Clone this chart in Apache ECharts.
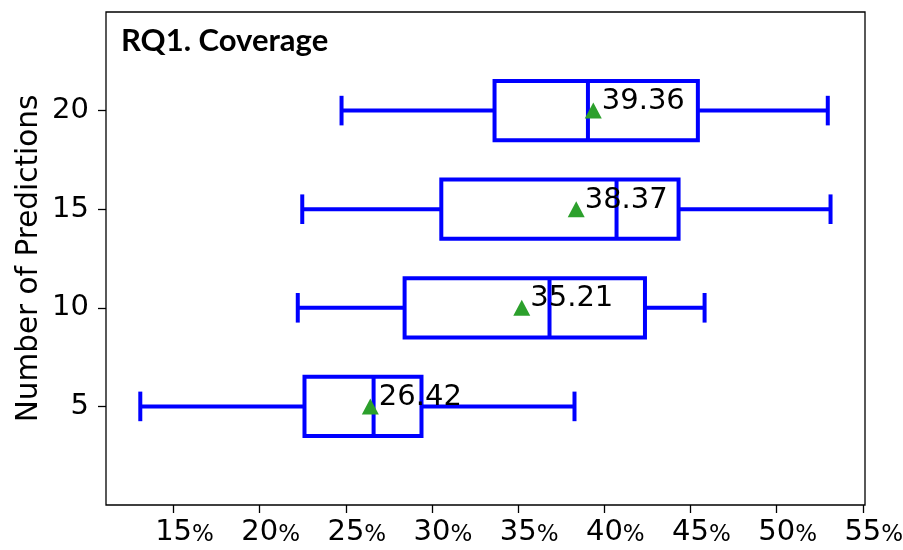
<!DOCTYPE html>
<html>
<head>
<meta charset="utf-8">
<script src="https://cdn.jsdelivr.net/npm/echarts@6/dist/echarts.min.js"></script>
<style>html,body{margin:0;padding:0;background:#fff}#c{width:903px;height:550px}</style>
</head>
<body>
<div id="c"></div>
<script>
// ---- data ----
const categories = [5, 10, 15, 20];
const lowWhisker = [13.07, 22.21, 22.47, 24.75];
const q1 = [22.60, 28.41, 30.54, 33.63];
const median = [26.61, 36.82, 40.71, 39.05];
const q3 = [29.39, 42.36, 44.31, 45.43];
const highWhisker = [38.27, 45.82, 53.13, 52.97];
const means = [26.42, 35.21, 38.37, 39.36];
const xTicks = [15, 20, 25, 30, 35, 40, 45, 50, 55];
const yTicks = [5, 10, 15, 20];
const titleText = 'RQ1. Coverage';
const yName = 'Number of Predictions';

const boxData = categories.map((c, i) => [c, lowWhisker[i], q1[i], median[i], q3[i], highWhisker[i]]);
const meanData = categories.map((c, i) => [means[i], c]);

const BLUE = '#0000ff';
const LW = 4;
const DV = "'DejaVu Sans'";

function renderBox(params, api) {
  const cat = api.value(0);
  const lo = api.coord([api.value(1), cat]);
  const a = api.coord([api.value(2), cat]);
  const m = api.coord([api.value(3), cat]);
  const b = api.coord([api.value(4), cat]);
  const hi = api.coord([api.value(5), cat]);
  const h = api.size([0, 3])[1];
  const capH = api.size([0, 1.5])[1];
  const y = lo[1];
  const st = { stroke: BLUE, lineWidth: LW, fill: null, lineCap: 'butt' };
  return {
    type: 'group',
    children: [
      { type: 'line', shape: { x1: lo[0], y1: y, x2: a[0], y2: y }, style: st },
      { type: 'line', shape: { x1: b[0], y1: y, x2: hi[0], y2: y }, style: st },
      { type: 'line', shape: { x1: lo[0], y1: y - capH / 2, x2: lo[0], y2: y + capH / 2 }, style: st },
      { type: 'line', shape: { x1: hi[0], y1: y - capH / 2, x2: hi[0], y2: y + capH / 2 }, style: st },
      { type: 'rect', shape: { x: a[0], y: y - h / 2, width: b[0] - a[0], height: h }, style: { stroke: BLUE, lineWidth: LW, fill: '#fff', lineJoin: 'miter' } },
      { type: 'line', shape: { x1: m[0], y1: y - h / 2, x2: m[0], y2: y + h / 2 }, style: st }
    ]
  };
}

const chart = echarts.init(document.getElementById('c'), null, { renderer: 'canvas' });
chart.setOption({
  animation: false,
  backgroundColor: '#fff',
  title: {
    text: titleText,
    left: 116,
    top: 20,
    textStyle: { fontFamily: 'Lato', fontWeight: 'bold', fontSize: 31, color: '#000' }
  },
  grid: {
    left: 106, right: 38, top: 12, bottom: 45,
    outerBoundsMode: 'none',
    containLabel: false,
    show: true, borderColor: '#000', borderWidth: 1.3, backgroundColor: 'transparent'
  },
  xAxis: {
    type: 'value',
    min: 11.08,
    max: 55.13,
    splitLine: { show: false },
    axisLine: { show: false },
    axisTick: { show: true, customValues: xTicks, length: 8, lineStyle: { color: '#000', width: 1.3 } },
    axisLabel: {
      customValues: xTicks,
      margin: 10,
      formatter: v => '{s|}{n|' + v + '}{p|%}',
      rich: {
        s: { width: 22, fontSize: 22, lineHeight: 32, verticalAlign: 'bottom' },
        n: { fontFamily: DV, fontSize: 29, color: '#000', verticalAlign: 'bottom', lineHeight: 32 },
        p: { fontFamily: DV, fontSize: 23, color: '#000', verticalAlign: 'bottom', lineHeight: 32 }
      }
    }
  },
  yAxis: {
    type: 'value',
    min: 0,
    max: 25,
    name: yName,
    nameLocation: 'middle',
    nameGap: 62,
    nameMoveOverlap: false,
    nameTextStyle: { fontFamily: DV, fontSize: 29.5, color: '#000' },
    splitLine: { show: false },
    axisLine: { show: false },
    axisTick: { show: true, customValues: yTicks, length: 8, lineStyle: { color: '#000', width: 1.3 } },
    axisLabel: { customValues: yTicks, margin: 17, fontFamily: DV, fontSize: 29, color: '#000' }
  },
  series: [
    {
      type: 'custom',
      renderItem: renderBox,
      encode: { x: [1, 2, 3, 4, 5], y: 0 },
      data: boxData,
      z: 2
    },
    {
      type: 'scatter',
      data: meanData,
      symbol: 'triangle',
      symbolSize: [17, 16],
      itemStyle: { color: '#2ca02c', opacity: 1 },
      z: 3,
      label: {
        show: true,
        position: 'right',
        distance: 0,
        offset: [0, -9],
        fontFamily: DV,
        fontSize: 29,
        color: '#000',
        formatter: p => p.value[0].toFixed(2)
      }
    }
  ]
});
</script>
</body>
</html>
